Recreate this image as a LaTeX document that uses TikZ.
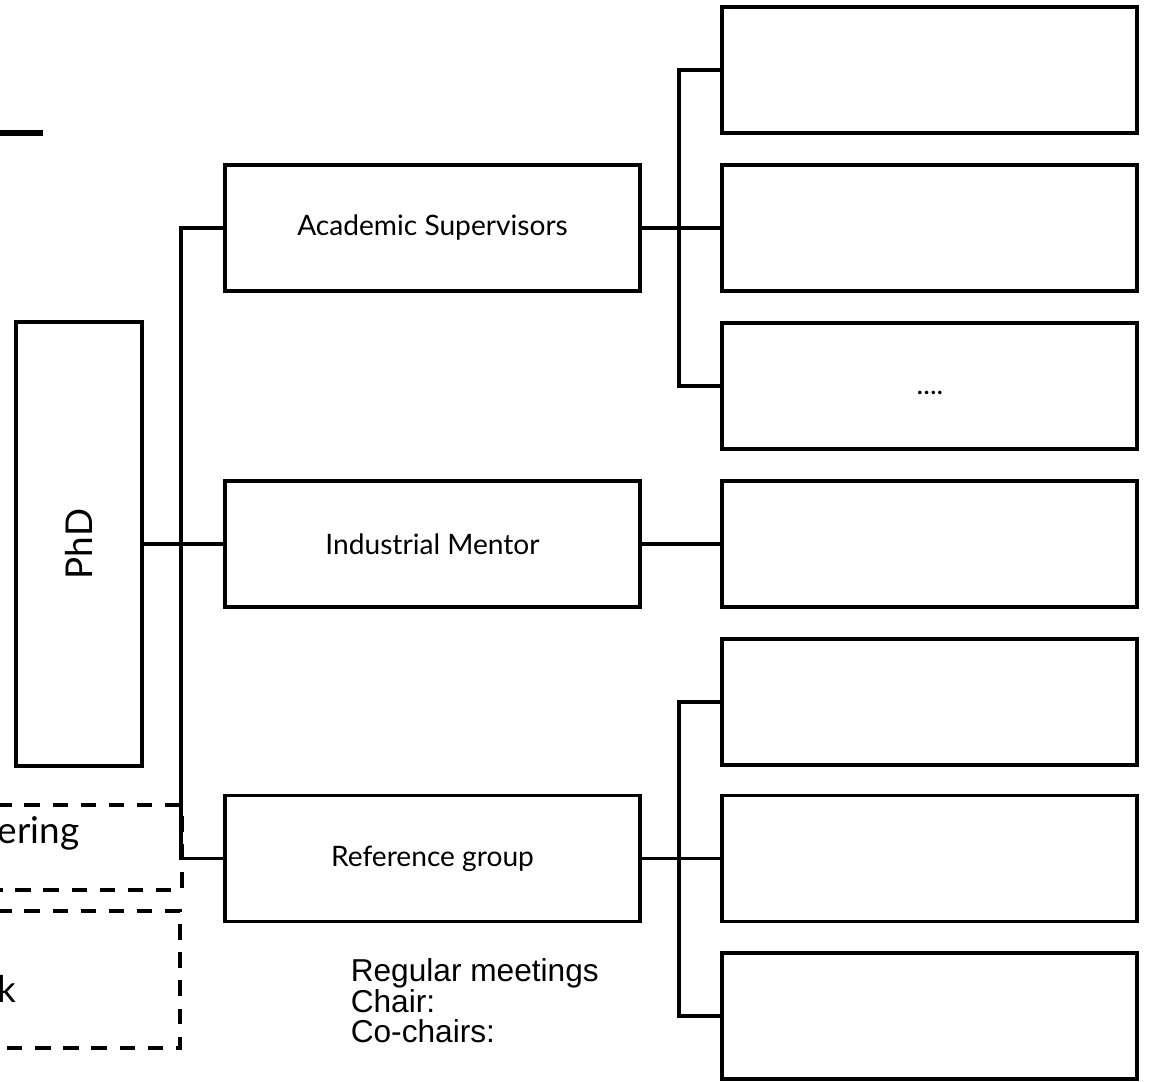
\documentclass[tikz,border=0pt]{standalone}
\usepackage{fontspec}
\setmainfont{Lato}
\newfontfamily\arialfont{Liberation Sans}
\begin{document}
\begin{tikzpicture}[x=0.01cm,y=-0.01cm,
  line width=1pt,
  box/.style={draw, line width=1pt, minimum width=4.15cm, minimum height=1.26cm, inner sep=0pt, font=\fontsize{8}{9.6}\selectfont},
  dashbox/.style={draw, line width=1.1pt, dash pattern=on 4.4pt off 3.6pt},
  conn/.style={draw, line width=1pt}]
\useasboundingbox (0,0) rectangle (1152,1081);
\clip (0,0) rectangle (1152,1081);
% top-left fragment
\draw[line width=1.7pt] (-10,133) -- (43,133);
% PhD
\node[box, minimum width=1.26cm, minimum height=4.44cm] (phd) at (79,544) {};
\node[rotate=90, font=\fontsize{10.5}{12}\selectfont] (phdlabel) at (phd.center) {PhD};
% middle boxes
\node[box] (as) at (432.5,228) {Academic Supervisors};
\node[box] (im) at (432.5,544) {Industrial Mentor};
\node[box] (rg) at (432.5,858.5) {Reference group};
% right boxes
\node[box] (r1) at (929.5,70) {};
\node[box] (r2) at (929.5,228) {};
\node[box] (r3) at (929.5,386) {};
\node[font=\fontsize{8}{9.6}\selectfont] (dots) at (930,393) {....};
\node[box] (r4) at (929.5,544) {};
\node[box] (r5) at (929.5,702) {};
\node[box] (r6) at (929.5,858.5) {};
\node[box] (r7) at (929.5,1016) {};
% connectors left
\draw[conn] (phd.east) -- (im.west);
\draw[conn] (as.west) -- ++(-42,0) |- (rg.west);
% connectors right
\draw[conn] (as.east) -- (r2.west);
\draw[conn] (r1.west) -- ++(-41,0) |- (r3.west);
\draw[conn] (im.east) -- (r4.west);
\draw[conn] (rg.east) -- (r6.west);
\draw[conn] (r5.west) -- ++(-41,0) |- (r7.west);
% dashed boxes on the left (cut off)
\draw[dashbox] (-60,805) -| (182,890) -- (-60,890);
\draw[dashbox] (-60,911) -| (180,1048) -- (-60,1048);
\node[anchor=east, inner sep=0pt, font=\fontsize{10.5}{12}\selectfont] (ering) at (81,833) {ering};
\node[anchor=east, inner sep=0pt, font=\fontsize{10.5}{12}\selectfont] (kk) at (18,989) {k};
% notes
\node[anchor=north west, inner sep=0pt, align=left, font=\arialfont\fontsize{9}{8.7}\selectfont] (notes) at (349,957) {Regular meetings\\Chair:\\Co-chairs:};
\end{tikzpicture}
\end{document}
